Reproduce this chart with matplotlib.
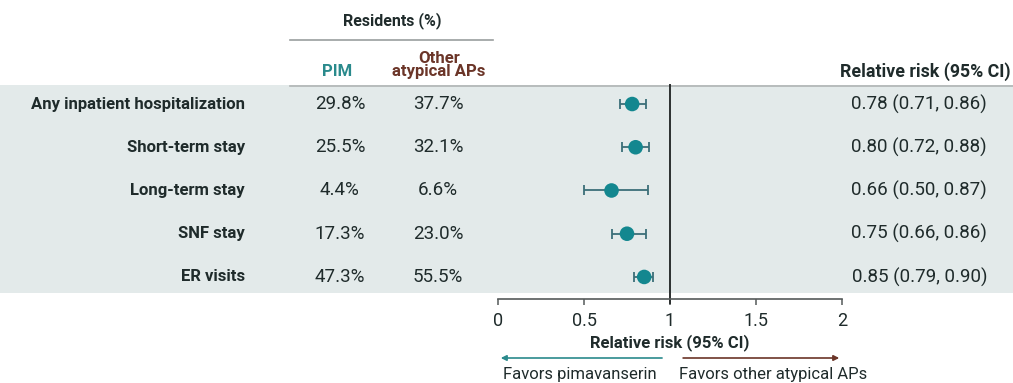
import matplotlib.pyplot as plt
import numpy as np

plt.rcParams['font.family'] = ['Roboto', 'DejaVu Sans']

# Data
outcomes = ['Any inpatient hospitalization', 'Short-term stay', 'Long-term stay',
            'SNF stay', 'ER visits']
pim_pct = [29.8, 25.5, 4.4, 17.3, 47.3]
other_pct = [37.7, 32.1, 6.6, 23.0, 55.5]
rr = [0.78, 0.80, 0.66, 0.75, 0.85]
ci_low = [0.71, 0.72, 0.50, 0.66, 0.79]
ci_high = [0.86, 0.88, 0.87, 0.86, 0.90]
xticks = [0, 0.5, 1, 1.5, 2]
xtick_labels = ['0', '0.5', '1', '1.5', '2']

TEXT = '#1f2b2b'
TEAL = '#2a8a8c'
BROWN = '#6b3528'
MARK = '#13878f'
BAR = '#3b6f78'
BAND = '#e3eaea'

W, H = 1013, 383
fig = plt.figure(figsize=(W / 100, H / 100), dpi=100)

# background axes in pixel coordinates
bg = fig.add_axes([0, 0, 1, 1], zorder=0)
bg.set_xlim(0, W)
bg.set_ylim(H, 0)
bg.axis('off')
bg.axhspan(85, 293, color=BAND, lw=0)
bg.plot([290, W], [86, 86], color='#b0b4b4', lw=1.2)
bg.plot([290, 493], [40, 40], color='#9a9e9e', lw=1.2)

fs = 13.5
fsb = 12
bg.text(392, 21, 'Residents (%)', ha='center', va='center', fontsize=11.5, fontweight='bold', color=TEXT)
bg.text(337, 72, 'PIM', ha='center', va='center', fontsize=fsb, fontweight='bold', color=TEAL)
bg.text(439, 65, 'Other\natypical APs', ha='center', va='center', fontsize=fsb, fontweight='bold',
        color=BROWN, linespacing=0.9)
bg.text(1011, 72, 'Relative risk (95% CI)', ha='right', va='center', fontsize=12.8, fontweight='bold',
        color=TEXT)

# forest axes
top, bottom = 85, 299
ax = fig.add_axes([498 / W, (H - bottom) / H, 344 / W, (bottom - top) / H], zorder=2)
ax.set_facecolor('none')
n = len(outcomes)
y = np.arange(n)
ax.set_xlim(0, 2)
ax.set_ylim(n - 1 + 0.51, -0.44)

row_px = [top + (bottom - top) * (yy + 0.44) / (n - 1 + 0.51 + 0.44) for yy in y]
for i in range(n):
    bg.text(245, row_px[i], outcomes[i], ha='right', va='center', fontsize=fsb, fontweight='bold', color=TEXT)
    bg.text(340, row_px[i], f'{pim_pct[i]:.1f}%', ha='center', va='center', fontsize=fs, color=TEXT)
    bg.text(438, row_px[i], f'{other_pct[i]:.1f}%', ha='center', va='center', fontsize=fs, color=TEXT)
    bg.text(987, row_px[i], f'{rr[i]:.2f} ({ci_low[i]:.2f}, {ci_high[i]:.2f})', ha='right', va='center',
            fontsize=fs, color=TEXT)

rr_a = np.array(rr)
err = [rr_a - np.array(ci_low), np.array(ci_high) - rr_a]
ax.errorbar(rr, y, xerr=err, fmt='none', ecolor=BAR, elinewidth=1.3, capsize=3.5, capthick=1.3, zorder=3)
ax.scatter(rr, y, s=110, color=MARK, zorder=4, edgecolors='none')

ax.axvline(1, ymin=-0.02, ymax=1, color='#2b2f2f', lw=1.4, clip_on=False, zorder=2)

for s in ['left', 'right', 'top']:
    ax.spines[s].set_visible(False)
ax.spines['bottom'].set_color('#555a5a')
ax.spines['bottom'].set_linewidth(1.2)
ax.set_yticks([])
ax.set_xticks(xticks)
ax.set_xticklabels(xtick_labels)
ax.tick_params(axis='x', direction='out', length=4, width=1.1, color='#555a5a', labelsize=13,
               labelcolor=TEXT, pad=5)
ax.set_xlabel('Relative risk (95% CI)', fontsize=fsb, fontweight='bold', color=TEXT, labelpad=3)

xt = ax.get_xaxis_transform()
ay = (bottom - 358) / (bottom - top)
ax.annotate('', xy=(0, ay), xytext=(0.97, ay), xycoords=xt, textcoords=xt,
            arrowprops=dict(arrowstyle='-|>', color=TEAL, lw=1.2, mutation_scale=8))
ax.annotate('', xy=(2, ay), xytext=(1.06, ay), xycoords=xt, textcoords=xt,
            arrowprops=dict(arrowstyle='-|>', color=BROWN, lw=1.2, mutation_scale=8))
fy = (bottom - 374) / (bottom - top)
ax.text(0.477, fy, 'Favors pimavanserin', transform=xt, ha='center', va='center', fontsize=12, color=TEXT)
ax.text(1.60, fy, 'Favors other atypical APs', transform=xt, ha='center', va='center', fontsize=12, color=TEXT)

fig.savefig('out.png', dpi=100)
